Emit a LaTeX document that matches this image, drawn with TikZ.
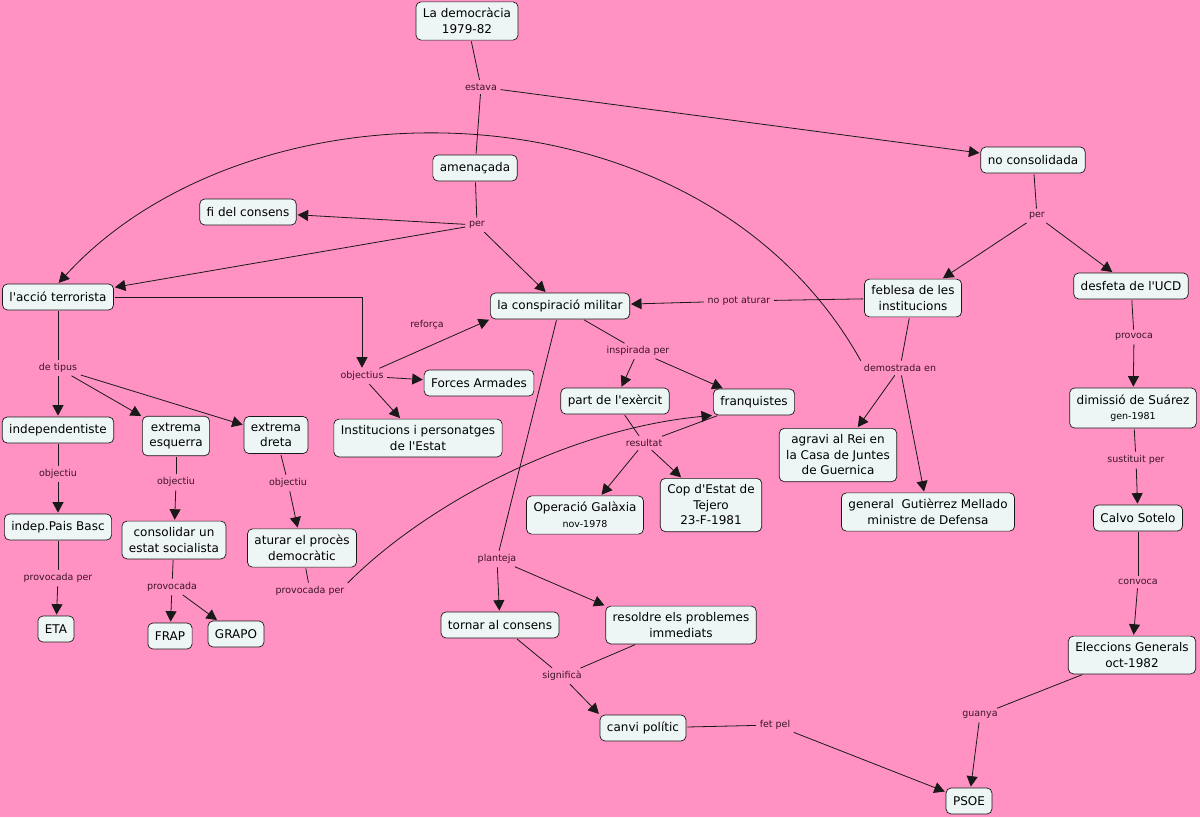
\documentclass[tikz,border=0pt]{standalone}
\usepackage{fontspec}
\setmainfont{DejaVu Sans}
\usetikzlibrary{arrows.meta,calc}
\definecolor{bgpink}{RGB}{255,146,194}
\definecolor{nodefill}{RGB}{237,245,245}
\definecolor{linec}{RGB}{25,25,25}
\definecolor{labc}{RGB}{60,20,40}
\newcommand{\ap}{\textquotesingle}
\newcommand{\subt}[1]{{\fontsize{9.5}{11}\selectfont #1}}
\tikzset{
 concept/.style={draw=linec, fill=nodefill, rounded corners=5pt, align=center, inner xsep=7pt, inner ysep=6.5pt, font=\fontsize{12}{15.5}\selectfont, text=black, line width=0.7pt, minimum height=26pt},
 lab/.style={font=\fontsize{9.5}{11}\selectfont, text=labc, inner sep=2.5pt},
 ln/.style={draw=linec, line width=0.8pt, shorten <=1pt, shorten >=1pt},
 arr/.style={ln, -{Triangle[length=10.5pt,width=11pt]}},
}
\begin{document}
\begin{tikzpicture}[x=1pt,y=-1pt]
\fill[bgpink] (0,0) rectangle (1200,817);
\useasboundingbox (0,0) rectangle (1200,817);
% concepts
\node[concept] (demo) at (467,21) {La democràcia\\1979-82};
\node[concept] (amen) at (475,168) {amenaçada};
\node[concept] (nocons) at (1033,160) {no consolidada};
\node[concept] (fi) at (248,212) {fi del consens};
\node[concept] (acc) at (58,297) {l\ap acció terrorista};
\node[concept] (consp) at (560,306) {la conspiració militar};
\node[concept] (feb) at (913,298) {feblesa de les\\institucions};
\node[concept] (desf) at (1131,286) {desfeta de l\ap UCD};
\node[concept] (indep) at (58,430) {independentiste};
\node[concept] (esq) at (176,436) {extrema\\esquerra};
\node[concept] (dreta) at (276,435) {extrema\\dreta};
\node[concept] (forces) at (479,383) {Forces Armades};
\node[concept] (inst) at (418,438) {Institucions i personatges\\de l\ap Estat};
\node[concept] (part) at (615,401) {part de l\ap exèrcit};
\node[concept] (franq) at (754,402) {franquistes};
\node[concept] (agravi) at (838,455) {agravi al Rei en\\la Casa de Juntes\\de Guernica};
\node[concept] (gen) at (928,512) {general~~Gutièrrez Mellado\\ministre de Defensa};
\node[concept] (dimis) at (1133,408) {dimissió de Suárez\\\subt{gen-1981}};
\node[concept] (ipb) at (58,527) {indep.Pais Basc};
\node[concept] (consol) at (174,540) {consolidar un\\estat socialista};
\node[concept] (aturar) at (302,548) {aturar el procès\\democràtic};
\node[concept] (galax) at (585,515) {Operació Galàxia\\\subt{nov-1978}};
\node[concept] (cop) at (711,505) {Cop d\ap Estat de\\Tejero\\23-F-1981};
\node[concept] (calvo) at (1138,518) {Calvo Sotelo};
\node[concept] (eta) at (56,629) {ETA};
\node[concept] (frap) at (170,636) {FRAP};
\node[concept] (grapo) at (236,634) {GRAPO};
\node[concept] (tornar) at (500,625) {tornar al consens};
\node[concept] (resol) at (681,625) {resoldre els problemes\\immediats};
\node[concept] (elec) at (1132,655) {Eleccions Generals\\oct-1982};
\node[concept] (canvi) at (643,728) {canvi polític};
\node[concept] (psoe) at (969,801) {PSOE};
% linking phrases
\node[lab] (lEstava) at (481,87) {estava};
\node[lab] (lPer1) at (477,225) {per};
\node[lab] (lPer2) at (1037,216) {per};
\node[lab] (lNoPot) at (739,301) {no pot aturar};
\node[lab] (lReforca) at (427,325) {reforça};
\node[lab] (lObjs) at (362,376) {objectius};
\node[lab] (lTipus) at (58,368) {de tipus};
\node[lab] (lInsp) at (638,351) {inspirada per};
\node[lab] (lDem) at (900,368) {demostrada en};
\node[lab] (lProvoca) at (1134,337) {provoca};
\node[lab] (lResult) at (644,443) {resultat};
\node[lab] (lObj1) at (58,474) {objectiu};
\node[lab] (lObj2) at (176,482) {objectiu};
\node[lab] (lObj3) at (288,483) {objectiu};
\node[lab] (lSust) at (1136,460) {sustituit per};
\node[lab] (lProv1) at (58,578) {provocada per};
\node[lab] (lProv2) at (172,587) {provocada};
\node[lab] (lProv3) at (310,591) {provocada per};
\node[lab] (lPlant) at (497,559) {planteja};
\node[lab] (lConv) at (1138,582) {convoca};
\node[lab] (lSign) at (562,676) {significà};
\node[lab] (lFet) at (775,725) {fet pel};
\node[lab] (lGuanya) at (980,715) {guanya};
% connectors
\draw[ln] (demo) -- (lEstava);
\draw[ln] (lEstava) -- (amen);
\draw[arr] (lEstava) -- (nocons);
\draw[ln] (amen) -- (lPer1);
\draw[arr] (lPer1) -- (fi);
\draw[arr] (lPer1) -- (acc);
\draw[arr] (lPer1) -- (consp);
\draw[ln] (nocons) -- (lPer2);
\draw[arr] (lPer2) -- (feb);
\draw[arr] (lPer2) -- (desf);
\draw[ln] (feb) -- (lNoPot);
\draw[arr] (lNoPot) -- (consp);
\draw[ln] (feb) -- (lDem);
\draw[arr] (lDem) -- (agravi);
\draw[arr] (lDem) -- (gen);
\draw[arr] (lDem.north west) .. controls (700,73) and (250,73) .. (acc.north);
\draw[arr] (acc.east) -- (lObjs.north |- acc.east) -- (lObjs.north);
\draw[arr] (lObjs) -- (consp.south west);
\draw[arr] (lObjs) -- (forces);
\draw[arr] (lObjs) -- (inst);
\draw[ln] (acc) -- (lTipus);
\draw[arr] (lTipus) -- (indep);
\draw[arr] (lTipus) -- (esq);
\draw[arr] (lTipus) -- (dreta);
\draw[ln] (indep) -- (lObj1);
\draw[arr] (lObj1) -- (ipb);
\draw[ln] (ipb) -- (lProv1);
\draw[arr] (lProv1) -- (eta);
\draw[ln] (esq) -- (lObj2);
\draw[arr] (lObj2) -- (consol);
\draw[ln] (consol) -- (lProv2);
\draw[arr] (lProv2) -- (frap);
\draw[arr] (lProv2) -- (grapo);
\draw[ln] (dreta) -- (lObj3);
\draw[arr] (lObj3) -- (aturar);
\draw[ln] (aturar) -- (lProv3);
\draw[arr] (lProv3.north east) .. controls (420,510) and (560,430) .. (franq.south west);
\draw[ln] (consp) -- (lInsp);
\draw[arr] (lInsp) -- (part);
\draw[arr] (lInsp) -- (franq);
\draw[ln] (part) -- (lResult);
\draw[ln] (franq) -- (lResult);
\draw[arr] (lResult) -- (galax);
\draw[arr] (lResult) -- (cop);
\draw[ln] (consp) -- (lPlant);
\draw[arr] (lPlant) -- (tornar);
\draw[arr] (lPlant) -- (resol.north west);
\draw[ln] (tornar) -- (lSign);
\draw[ln] (resol) -- (lSign);
\draw[arr] (lSign) -- (canvi.north west);
\draw[ln] (canvi) -- (lFet);
\draw[arr] (lFet) -- (psoe);
\draw[ln] (desf) -- (lProvoca);
\draw[arr] (lProvoca) -- (dimis);
\draw[ln] (dimis) -- (lSust);
\draw[arr] (lSust) -- (calvo);
\draw[ln] (calvo) -- (lConv);
\draw[arr] (lConv) -- (elec);
\draw[ln] (elec) -- (lGuanya);
\draw[arr] (lGuanya) -- (psoe);
\end{tikzpicture}
\end{document}
